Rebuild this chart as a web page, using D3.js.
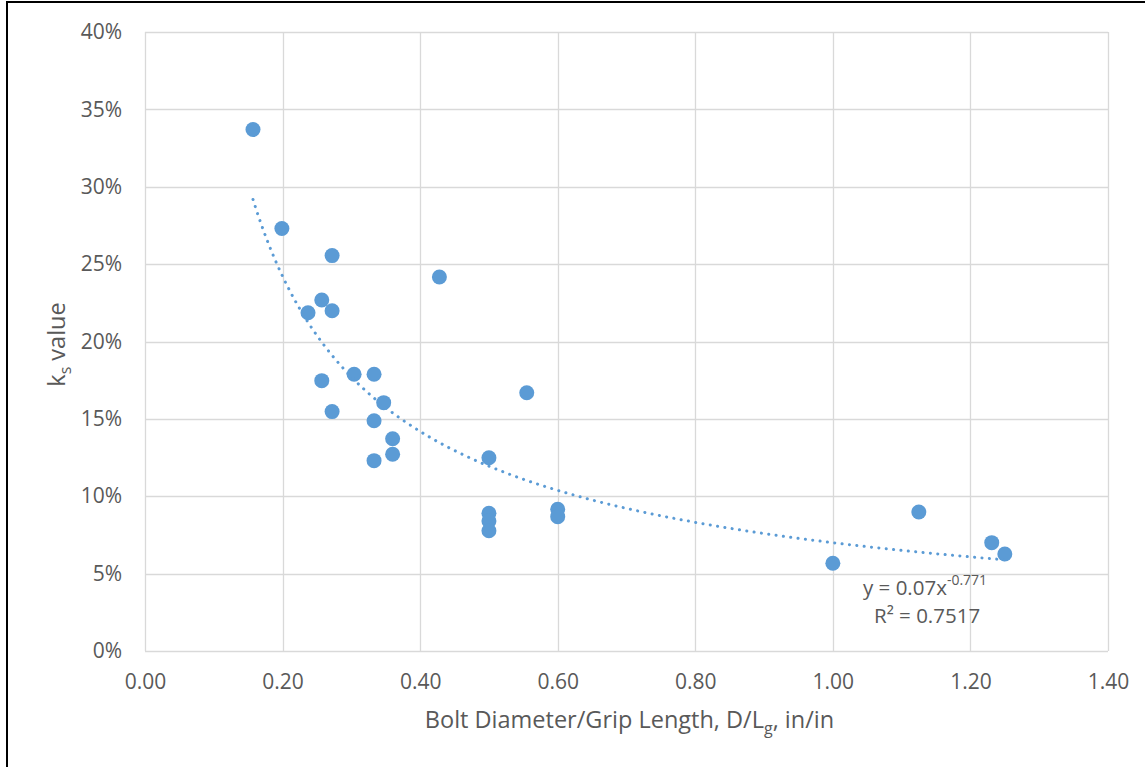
<!DOCTYPE html>
<html>
<head>
<meta charset="utf-8">
<script src="https://cdn.jsdelivr.net/npm/d3@7"></script>
<style>
  html, body { margin: 0; padding: 0; background: #fff; }
  svg { display: block; }
  text { font-family: "Open Sans", "Noto Sans", sans-serif; fill: #595959; }
</style>
</head>
<body>
<svg id="chart" width="1145" height="767"></svg>
<script>
// Data
const diameterGrip = [0.157, 0.199, 0.272, 0.428, 0.257, 0.272, 0.237,
                      0.257, 0.304, 0.333, 0.272, 0.347, 0.333, 0.360, 0.360, 0.333,
                      0.555, 0.500, 0.500, 0.500, 0.500, 0.600, 0.600,
                      1.000, 1.125, 1.231, 1.250];
const ksValue = [0.337, 0.273, 0.2555, 0.2417, 0.2268, 0.2199, 0.2186,
                 0.1747, 0.1788, 0.1788, 0.1547, 0.1605, 0.1488, 0.1372, 0.1271, 0.1230,
                 0.1669, 0.1249, 0.0890, 0.0840, 0.0777, 0.0916, 0.0868,
                 0.0567, 0.0898, 0.0700, 0.0627];
const xTicks = [0, 0.2, 0.4, 0.6, 0.8, 1.0, 1.2, 1.4];
const yTicks = [0, 0.05, 0.10, 0.15, 0.20, 0.25, 0.30, 0.35, 0.40];
// Power trendline shown on chart: y = 0.07 x^-0.771
const trendA = 0.07, trendB = -0.771;

(function () {
const svg = d3.select("#chart");
const pL = 145, pR = 1108, pT = 32, pB = 651;
const x = d3.scaleLinear().domain([0, 1.4]).range([pL, pR]);
const y = d3.scaleLinear().domain([0, 0.40]).range([pB, pT]);
const blue = "#5B9BD5";
const tickFont = "21px", titleFont = "23.5px";

// outer frame
svg.append("rect").attr("x", 7).attr("y", 2).attr("width", 1160).attr("height", 800)
  .attr("fill", "none").attr("stroke", "#000").attr("stroke-width", 2);

// gridlines
const grid = svg.append("g");
grid.selectAll("line.h").data(yTicks).join("line").attr("class", "h")
  .attr("x1", pL).attr("x2", pR)
  .attr("y1", d => Math.round(y(d)) + 0.5).attr("y2", d => Math.round(y(d)) + 0.5)
  .attr("stroke", "#d9d9d9").attr("stroke-width", 1.3);
grid.selectAll("line.v").data(xTicks).join("line").attr("class", "v")
  .attr("y1", pT).attr("y2", pB)
  .attr("x1", d => Math.round(x(d)) + 0.5).attr("x2", d => Math.round(x(d)) + 0.5)
  .attr("stroke", "#d9d9d9").attr("stroke-width", 1.3);

// axes (labels only)
const yAxis = d3.axisLeft(y).tickValues(yTicks).tickFormat(d3.format(".0%")).tickSize(0).tickPadding(23);
const gy = svg.append("g").attr("transform", `translate(${pL},0)`).call(yAxis);
gy.select(".domain").remove();
gy.selectAll("text").style("font-size", tickFont).attr("fill", "#595959");

const xAxis = d3.axisBottom(x).tickValues(xTicks).tickFormat(d3.format(".2f")).tickSize(0).tickPadding(23.5);
const gx = svg.append("g").attr("transform", `translate(0,${pB})`).call(xAxis);
gx.select(".domain").remove();
gx.selectAll("text").style("font-size", tickFont).attr("fill", "#595959");

// points
svg.append("g").selectAll("circle").data(diameterGrip.map((d, i) => [d, ksValue[i]])).join("circle")
  .attr("cx", d => x(d[0])).attr("cy", d => y(d[1])).attr("r", 7.5).attr("fill", blue);

// trendline
const xmin = d3.min(diameterGrip), xmax = d3.max(diameterGrip);
const trendPts = d3.range(0, 201).map(i => {
  const xv = xmin + (xmax - xmin) * i / 200;
  return [xv, trendA * Math.pow(xv, trendB)];
});
svg.append("path").datum(trendPts)
  .attr("d", d3.line().x(d => x(d[0])).y(d => y(d[1])))
  .attr("fill", "none").attr("stroke", blue).attr("stroke-width", 3)
  .attr("stroke-linecap", "round").attr("stroke-dasharray", "0.1 7.3");

// equation
const eq = svg.append("text").attr("x", 863).attr("y", 595).style("font-size", "20.5px");
eq.append("tspan").text("y = 0.07x");
eq.append("tspan").attr("dy", -10).style("font-size", "14px").text("-0.771");
svg.append("text").attr("x", 874).attr("y", 623).style("font-size", "20.5px").text("R² = 0.7517");

// axis titles
const xt = svg.append("text").attr("x", 629.5).attr("y", 728).attr("text-anchor", "middle").style("font-size", titleFont);
xt.append("tspan").text("Bolt Diameter/Grip Length, D/L");
xt.append("tspan").attr("dy", 6).style("font-size", "16px").text("g");
xt.append("tspan").attr("dy", -6).text(", in/in");

const yt = svg.append("text").attr("transform", `translate(65,${(pT + pB) / 2 + 3}) rotate(-90)`)
  .attr("text-anchor", "middle").style("font-size", titleFont);
yt.append("tspan").text("k");
yt.append("tspan").attr("dy", 6).style("font-size", "16px").text("s");
yt.append("tspan").attr("dy", -6).text(" value");
})();
</script>
</body>
</html>
